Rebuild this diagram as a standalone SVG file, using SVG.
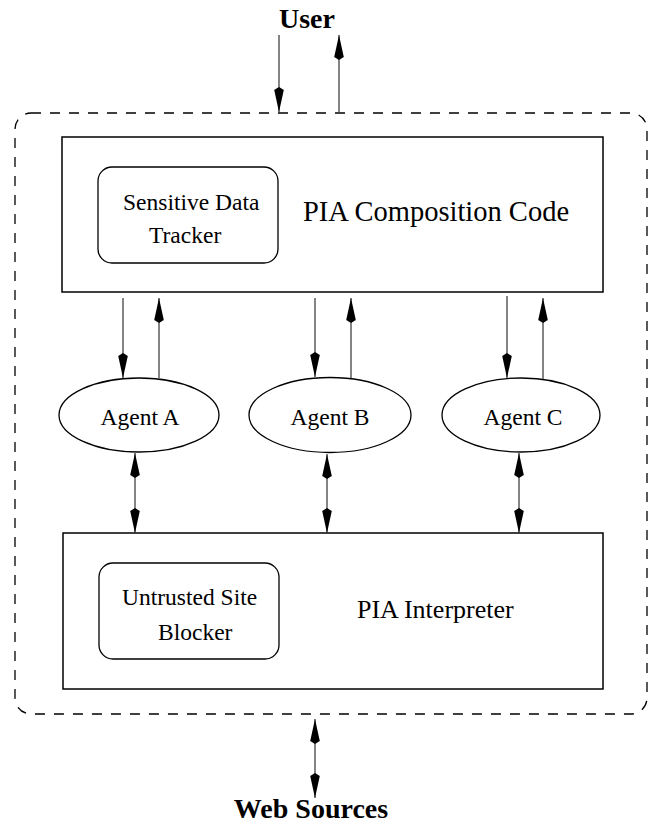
<svg xmlns="http://www.w3.org/2000/svg" width="650" height="823" viewBox="0 0 650 823">
<style>
text{font-family:"Liberation Serif","Times New Roman",serif;fill:#000}
.big{font-size:28.5px}
.interp{font-size:26px}
.mid{font-size:23.5px}
.bold{font-size:28px;font-weight:bold}
.box{fill:#fff;stroke:#000;stroke-width:1.5}
.rbox{fill:none;stroke:#000;stroke-width:1.3}
.ell{fill:#fff;stroke:#000;stroke-width:1.3}
.dash{fill:none;stroke:#000;stroke-width:1.3;stroke-dasharray:10 9}
.arr{stroke:#333;stroke-width:1.2;fill:none}
.one{marker-end:url(#ah)}
.two{marker-start:url(#ah);marker-end:url(#ah)}
</style>
<defs>
<marker id="ah" markerUnits="userSpaceOnUse" markerWidth="28" markerHeight="12" refX="26" refY="6" orient="auto-start-reverse">
<path d="M26,6 L4,1.2 L1,6 L4,10.8 Z" fill="#000"/>
</marker>
</defs>
<rect width="650" height="823" fill="#fff"/>
<g id="boundary">
<rect class="dash" x="15" y="113" width="632" height="601" rx="16"/>
</g>
<g id="user"><text class="bold" x="307" y="28" text-anchor="middle">User</text></g>
<g id="web-sources"><text class="bold" x="311" y="818" text-anchor="middle">Web Sources</text></g>
<g id="composition">
<rect class="box" x="62" y="137" width="541" height="155"/>
<text class="big" x="303" y="221">PIA Composition Code</text>
</g>
<g id="tracker">
<rect class="rbox" x="98" y="167" width="180" height="96" rx="14"/>
<text class="mid" x="123" y="210">Sensitive Data</text>
<text class="mid" x="149" y="243">Tracker</text>
</g>
<g id="agent-a">
<ellipse class="ell" cx="139" cy="415" rx="80" ry="37"/>
<text class="mid" x="140" y="425" text-anchor="middle">Agent A</text>
</g>
<g id="agent-b">
<ellipse class="ell" cx="330" cy="415" rx="81" ry="37.5"/>
<text class="mid" x="330" y="425" text-anchor="middle">Agent B</text>
</g>
<g id="agent-c">
<ellipse class="ell" cx="521" cy="415" rx="79" ry="37"/>
<text class="mid" x="523" y="425" text-anchor="middle">Agent C</text>
</g>
<g id="interpreter">
<rect class="box" x="63" y="533" width="540" height="156"/>
<text class="interp" x="357" y="618">PIA Interpreter</text>
</g>
<g id="blocker">
<rect class="rbox" x="99" y="563" width="180" height="96" rx="14"/>
<text class="mid" x="122" y="605">Untrusted Site</text>
<text class="mid" x="158" y="640">Blocker</text>
</g>
<g id="connectors">
<line class="arr one" x1="279" y1="35" x2="279" y2="112"/>
<line class="arr one" x1="339" y1="112" x2="339" y2="35"/>
<line class="arr one" x1="123" y1="298" x2="123" y2="378"/>
<line class="arr one" x1="159" y1="378" x2="159" y2="298"/>
<line class="arr one" x1="315" y1="298" x2="315" y2="377"/>
<line class="arr one" x1="351" y1="378" x2="351" y2="298"/>
<line class="arr one" x1="507" y1="296" x2="507" y2="378"/>
<line class="arr one" x1="543" y1="379" x2="543" y2="298"/>
<line class="arr two" x1="135" y1="453" x2="135" y2="533"/>
<line class="arr two" x1="327" y1="454" x2="327" y2="533"/>
<line class="arr two" x1="519" y1="453" x2="519" y2="533"/>
<line class="arr two" x1="315" y1="719" x2="315" y2="798"/>
</g>
</svg>
